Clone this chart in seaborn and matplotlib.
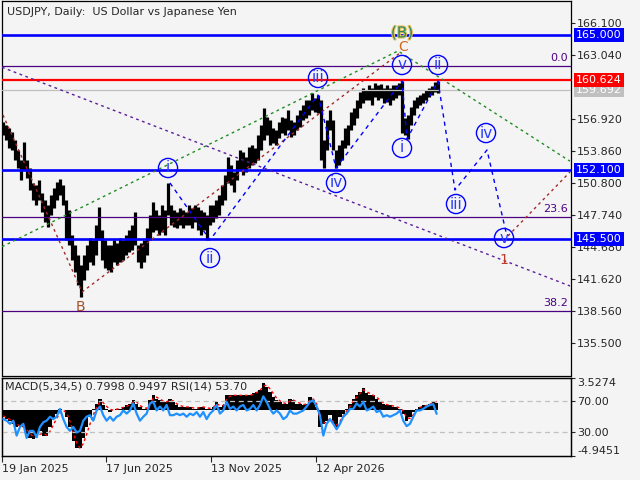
import numpy as np
import matplotlib
matplotlib.use('Agg')
import matplotlib.pyplot as plt
import matplotlib.patheffects as pe
import seaborn as sns

sns.set_style("ticks")
plt.rcParams['font.family'] = ['DejaVu Sans']
plt.rcParams['font.size'] = 8

BG = '#f4f4f4'
BLUE = '#0000ff'
PURPLE = '#4b0082'

# -------------------------------------------------------
# Price data: high / low of each 3-bar block (JPY per USD)
# -------------------------------------------------------
highs = [156.65, 156.36, 156.07, 155.69, 154.93, 153.97, 153.01, 154.73, 153.01, 152.25,
         150.82, 150.63, 151.10, 149.86, 149.19, 148.72, 149.67, 150.34, 150.91, 151.20,
         150.63, 149.19, 148.24, 145.85, 144.90, 143.94, 142.99, 143.94, 144.90, 145.56,
         145.37, 146.81, 148.53, 146.33, 145.37, 144.90, 144.90, 145.37, 145.09, 145.56,
         145.37, 145.85, 146.33, 146.81, 148.05, 144.90, 145.09, 145.37, 146.52, 147.76,
         149.00, 148.24, 147.76, 148.72, 148.24, 150.82, 148.72, 148.24, 148.05, 148.43,
         148.24, 148.05, 148.72, 148.43, 148.72, 148.53, 148.24, 148.05, 147.76, 148.72,
         148.72, 149.19, 149.67, 150.63, 151.58, 153.30, 152.54, 151.87, 153.01, 153.97,
         153.78, 153.30, 154.26, 154.45, 154.16, 155.40, 156.36, 157.98, 157.12, 156.84,
         156.07, 155.88, 156.65, 157.12, 157.03, 157.79, 156.84, 156.65, 157.31, 157.79,
         158.27, 158.75, 158.75, 159.41, 158.94, 159.22, 158.75, 154.93, 156.84, 157.79,
         156.84, 153.97, 154.45, 154.93, 156.07, 156.36, 157.60, 157.98, 158.75, 159.51,
         159.89, 159.70, 160.18, 159.89, 160.37, 160.18, 160.27, 159.89, 160.18, 159.89,
         160.18, 160.18, 160.37, 160.56, 157.03, 157.31, 158.08, 158.75, 159.03, 159.22,
         159.41, 159.70, 159.89, 160.08, 160.47, 160.56]
lows = [155.40, 154.93, 154.16, 153.97, 153.01, 152.25, 151.10, 152.06, 151.30, 150.15,
        149.19, 148.72, 149.19, 148.05, 147.09, 146.62, 147.76, 148.43, 149.19, 149.67,
        148.72, 145.37, 144.90, 143.46, 142.32, 141.08, 139.93, 141.55, 142.51, 143.27,
        142.99, 143.94, 145.37, 143.46, 142.70, 142.51, 142.32, 143.27, 142.99, 143.27,
        143.46, 143.94, 144.23, 144.42, 144.90, 143.27, 142.70, 143.27, 143.94, 145.37,
        146.14, 146.33, 145.85, 146.14, 145.85, 147.76, 146.81, 146.62, 146.52, 146.81,
        146.52, 146.81, 146.81, 146.52, 147.09, 146.33, 145.85, 146.33, 145.37, 146.81,
        147.09, 147.48, 147.76, 148.72, 149.19, 150.82, 150.63, 149.96, 151.10, 152.06,
        151.58, 151.87, 152.25, 152.54, 152.73, 153.01, 153.97, 154.93, 155.40, 154.45,
        154.64, 154.45, 155.11, 155.59, 155.40, 155.88, 155.21, 155.40, 155.88, 156.17,
        156.84, 157.03, 157.31, 157.79, 157.60, 157.50, 153.01, 152.25, 153.97, 155.88,
        153.97, 152.25, 152.54, 153.01, 154.16, 154.45, 155.88, 156.36, 157.03, 157.98,
        158.46, 158.75, 158.75, 158.27, 159.03, 158.75, 158.94, 158.46, 158.55, 158.27,
        158.75, 158.94, 159.22, 155.59, 155.40, 155.02, 156.36, 157.31, 157.98, 158.27,
        158.46, 158.75, 159.03, 159.22, 159.51, 159.41]

# Oscillators (one sample every ~3.3 bars)
macd = [-0.76, -0.94, -1.12, -1.49, -1.86, -1.67, -1.86, -2.59, -2.96, -3.14,
        -2.59, -2.22, -2.78, -2.78, -1.86, -0.94, -0.39, 0.18, 0.0, -0.76,
        -1.86, -3.33, -4.06, -4.06, -2.96, -1.86, -0.76, 0.18, 0.71, 1.26,
        0.53, 0.18, -0.2, 0.0, 0.18, 0.18, 0.34, 0.53, 0.71, 1.07,
        0.71, 0.34, 0.18, 0.18, 1.07, 1.62, 1.26, 1.07, 0.89, 0.89,
        1.26, 0.89, 0.53, 0.34, 0.34, 0.34, 0.34, 0.18, 0.18, 0.34,
        0.34, 0.18, 0.18, 0.34, 0.89,
        0.34, 0.53, 1.62, 1.62, 1.62, 1.62, 1.62, 1.62, 1.62, 1.62,
        1.81, 1.99, 2.17, 2.91, 2.54, 1.99, 1.44, 1.07, 0.89, 0.71,
        0.71, 1.26, 1.07, 0.71, 0.71, 0.53, 0.71, 1.44, 1.07, 0.34,
        -1.86, -1.49, -1.12, -0.57, -1.49, -1.86, -0.76, -0.39, 0.18, 0.71,
        1.26, 1.62, 1.99, 2.36, 1.81, 1.62, 1.62, 1.26, 0.89, 0.71,
        0.53, 0.53, 0.34, 0.34, 0.18, -0.39, -1.12, -0.76, -0.2, 0.18,
        0.34, 0.53, 0.53, 0.71, 0.89, 0.80]
signal = [-0.6, -0.8, -1.0, -1.2, -1.5, -1.7, -1.8, -2.1, -2.5, -2.9,
          -2.9, -2.6, -2.5, -2.7, -2.3, -1.6, -0.9, -0.3, 0.0, -0.3,
          -1.2, -2.4, -3.5, -4.1, -3.6, -2.6, -1.5, -0.5, 0.3, 0.9,
          0.8, 0.4, 0.1, 0.0, 0.1, 0.2, 0.3, 0.4, 0.6, 0.9,
          0.9, 0.5, 0.3, 0.2, 0.7, 1.3, 1.4, 1.2, 1.0, 0.9,
          1.1, 1.0, 0.7, 0.5, 0.4, 0.35, 0.34, 0.25, 0.2, 0.3,
          0.35, 0.25, 0.2, 0.3, 0.7,
          0.5, 0.5, 1.2, 1.5, 1.6, 1.6, 1.6, 1.6, 1.6, 1.6,
          1.7, 1.9, 2.1, 2.6, 2.7, 2.3, 1.8, 1.3, 1.0, 0.8,
          0.7, 1.0, 1.1, 0.9, 0.75, 0.6, 0.65, 1.1, 1.2, 0.7,
          -0.9, -1.4, -1.3, -0.9, -1.2, -1.6, -1.2, -0.6, -0.1, 0.4,
          1.0, 1.4, 1.8, 2.2, 2.0, 1.8, 1.6, 1.4, 1.1, 0.8,
          0.6, 0.55, 0.45, 0.35, 0.25, -0.1, -0.8, -0.9, -0.5, 0.0,
          0.3, 0.45, 0.5, 0.65, 0.8, 0.95]
rsi = [47, 45, 41, 45, 26, 37, 41, 23, 32, 32,
       24, 37, 43, 45, 50, 47, 50, 60, 47, 37,
       32, 37, 30, 32, 45, 50, 52, 45, 58, 63,
       52, 45, 50, 45, 50, 52, 58, 54, 58, 67,
       54, 45, 50, 54, 67, 69, 58, 63, 58, 65,
       52, 52, 54, 52, 54, 50, 54, 52, 56, 50,
       56, 47, 54, 58, 65,
       54, 58, 69, 60, 63, 58, 63, 65, 58, 60,
       65, 58, 65, 76, 69, 60, 54, 58, 54, 47,
       50, 58, 54, 54, 56, 58, 63, 69, 71, 63,
       52, 26, 41, 47, 41, 34, 41, 50, 54, 60,
       60, 67, 63, 69, 58, 60, 63, 56, 58, 50,
       52, 50, 52, 54, 58, 45, 38, 41, 50, 58,
       58, 60, 63, 65, 66, 53.7]

# Levels and annotations
blue_levels = [165.0, 152.1, 145.5]
red_level = 160.624
last_price = 159.692
fib_levels = [161.96, 147.55, 138.56]
fib_names = ['0.0', '23.6', '38.2']
price_ticks = [166.1, 163.04, 156.92, 153.86, 150.8, 147.74, 144.68, 141.62, 138.56, 135.5]
date_ticks = [2, 106, 211, 316]
date_labels = ['19 Jan 2025', '17 Jun 2025', '13 Nov 2025', '12 Apr 2026']

wave_x = [168, 210, 318, 336, 402, 402, 438, 456, 486, 504]
wave_p = [152.25, 143.65, 160.85, 150.82, 162.09, 154.16, 162.09, 148.81, 155.59, 145.56]
wave_txt = ['i', 'ii', 'iii', 'iv', 'v', 'i', 'ii', 'iii', 'iv', 'v']
path_x = [170, 210, 318, 336, 402, 407, 438, 455, 487, 506]
path_p = [150.82, 145.37, 159.22, 152.25, 160.56, 155.02, 160.56, 150.15, 153.97, 146.14]

purple_x, purple_p = [2, 570], [161.87, 140.98]
green_x, green_p = [2, 398, 570], [144.73, 163.43, 152.9]
brown_x, brown_p = [3, 82, 400], [157.31, 140.41, 163.24]
brown2_x, brown2_p = [508, 570], [145.76, 151.87]

days = np.arange(3, 3 + 3 * len(highs), 3)
osc_x = 3.3 + np.arange(len(macd)) * (10 / 3)

# -------------------------------------------------------
# Figure
# -------------------------------------------------------
fig = plt.figure(figsize=(6.4, 4.8), dpi=100, facecolor=BG)
ax = fig.add_axes([2 / 640, 1 - 375.5 / 480, 569 / 640, 374.5 / 480], facecolor=BG)
ax_sub = fig.add_axes([2 / 640, 1 - 456 / 480, 569 / 640, 78.5 / 480], facecolor=BG)

ax.set_xlim(2, 571)
ax.set_ylim(132.43, 168.2)
ax.vlines(days, lows, highs, color='black', lw=2.3, zorder=2)

for lev in blue_levels:
    ax.axhline(lev, color=BLUE, lw=1.9, zorder=3)
ax.axhline(last_price, color='#c0c0c0', lw=0.9, zorder=3)
ax.axhline(red_level, color='red', lw=1.6, zorder=3)
for lev, name in zip(fib_levels, fib_names):
    ax.axhline(lev, color=PURPLE, lw=0.9, zorder=3)
    ax.text(568, lev + 0.35, name, ha='right', va='bottom', color=PURPLE, fontsize=8)

dots = (0, (2, 2.5))
ax.plot(purple_x, purple_p, color='#5a1e9a', lw=1, ls=dots, zorder=3)
ax.plot(green_x, green_p, color='#228b22', lw=1, ls=dots, zorder=3)
ax.plot(brown_x, brown_p, color='#a52a2a', lw=1, ls=dots, zorder=3)
ax.plot(brown2_x, brown2_p, color='#a52a2a', lw=1, ls=dots, zorder=3)
ax.plot(path_x, path_p, color=BLUE, lw=1, ls=(0, (3, 3)), zorder=3)

ax.scatter(wave_x, wave_p, s=190, facecolors='none', edgecolors=BLUE, linewidths=1, zorder=4)
for x, p, t in zip(wave_x, wave_p, wave_txt):
    ax.text(x, p, t, ha='center', va='center', color='#2b3cff', fontsize=11, zorder=5)

ax.text(402, 165.14, '(B)', ha='center', va='center', color='#2e8b57', fontsize=11, zorder=5,
        path_effects=[pe.withStroke(linewidth=1.5, foreground='#e8c060')])
ax.text(403, 163.81, 'C', ha='center', va='center', color='#d2691e', fontsize=10, zorder=5)
ax.text(80, 138.98, 'B', ha='center', va='center', color='#a0522d', fontsize=10, zorder=5)
ax.text(504, 143.46, '1', ha='center', va='center', color='#c0392b', fontsize=10, zorder=5)

ax.set_xticks([])
ax.yaxis.tick_right()
ax.set_yticks(price_ticks)
ax.set_yticklabels([f'{v:.3f}' for v in price_ticks])
ax.tick_params(axis='y', direction='out', length=3, width=0.8, pad=1.5, labelsize=8)

boxes = [(165.0, BLUE), (last_price, '#c0c0c0'), (red_level, 'red'), (152.1, BLUE), (145.5, BLUE)]
for price, col in boxes:
    ax.text(1.0088, price, f'{price:.3f}', transform=ax.get_yaxis_transform(), ha='left',
            va='center', color='white', fontsize=8, clip_on=False, zorder=6,
            bbox=dict(boxstyle='square,pad=0.18', fc=col, ec='none'))

fig.text(7 / 640, 1 - 12 / 480, 'USDJPY, Daily:  US Dollar vs Japanese Yen',
         ha='left', va='center', fontsize=8)

# -------------------------------------------------------
# MACD + RSI window
# -------------------------------------------------------
ax_sub.set_xlim(2, 571)
ax_sub.set_ylim(-4.9451, 3.5274)
ax_sub.bar(osc_x, macd, width=10 / 3, color='black', linewidth=0, zorder=2)
sns.lineplot(x=osc_x, y=signal, ax=ax_sub, color='red', lw=1, linestyle=(0, (2, 2)), zorder=3)

ax_rsi = ax_sub.twinx()
ax_rsi.set_ylim(0, 100)
for lev in [70, 30]:
    ax_rsi.axhline(lev, color='#c0c0c0', lw=0.9, ls=(0, (4, 3)), zorder=1)
sns.lineplot(x=osc_x, y=rsi, ax=ax_rsi, color='#1e90ff', lw=1.6, zorder=4)

ax_sub.yaxis.tick_right()
ax_sub.set_yticks([3.5274, -4.9451])
ax_sub.set_yticklabels(['3.5274', '-4.9451'])
labs = ax_sub.get_yticklabels()
labs[0].set_va('top')
labs[1].set_va('bottom')
ax_sub.tick_params(axis='y', direction='out', length=3, width=0.8, pad=1.5, labelsize=8)
ax_rsi.set_yticks([70, 30])
ax_rsi.set_yticklabels(['70.00', '30.00'])
ax_rsi.tick_params(axis='y', direction='out', length=3, width=0.8, pad=1.5, labelsize=8)

ax_sub.set_xlim(2, 571)
ax_sub.set_xticks(date_ticks)
ax_sub.set_xticklabels(date_labels, ha='left')
ax_sub.tick_params(axis='x', direction='out', length=4, width=0.8, pad=1.5, labelsize=8,
                   bottom=True, labelbottom=True)

ax_sub.text(0.005, 0.89, 'MACD(5,34,5) 0.7998 0.9497 RSI(14) 53.70', transform=ax_sub.transAxes,
            ha='left', va='center', fontsize=8, zorder=6)

for a in [ax, ax_sub, ax_rsi]:
    for s in a.spines.values():
        s.set_color('black')
        s.set_linewidth(0.9)
    a.set_xlabel('')
    a.set_ylabel('')

fig.savefig('out.png', dpi=100, facecolor=BG)
